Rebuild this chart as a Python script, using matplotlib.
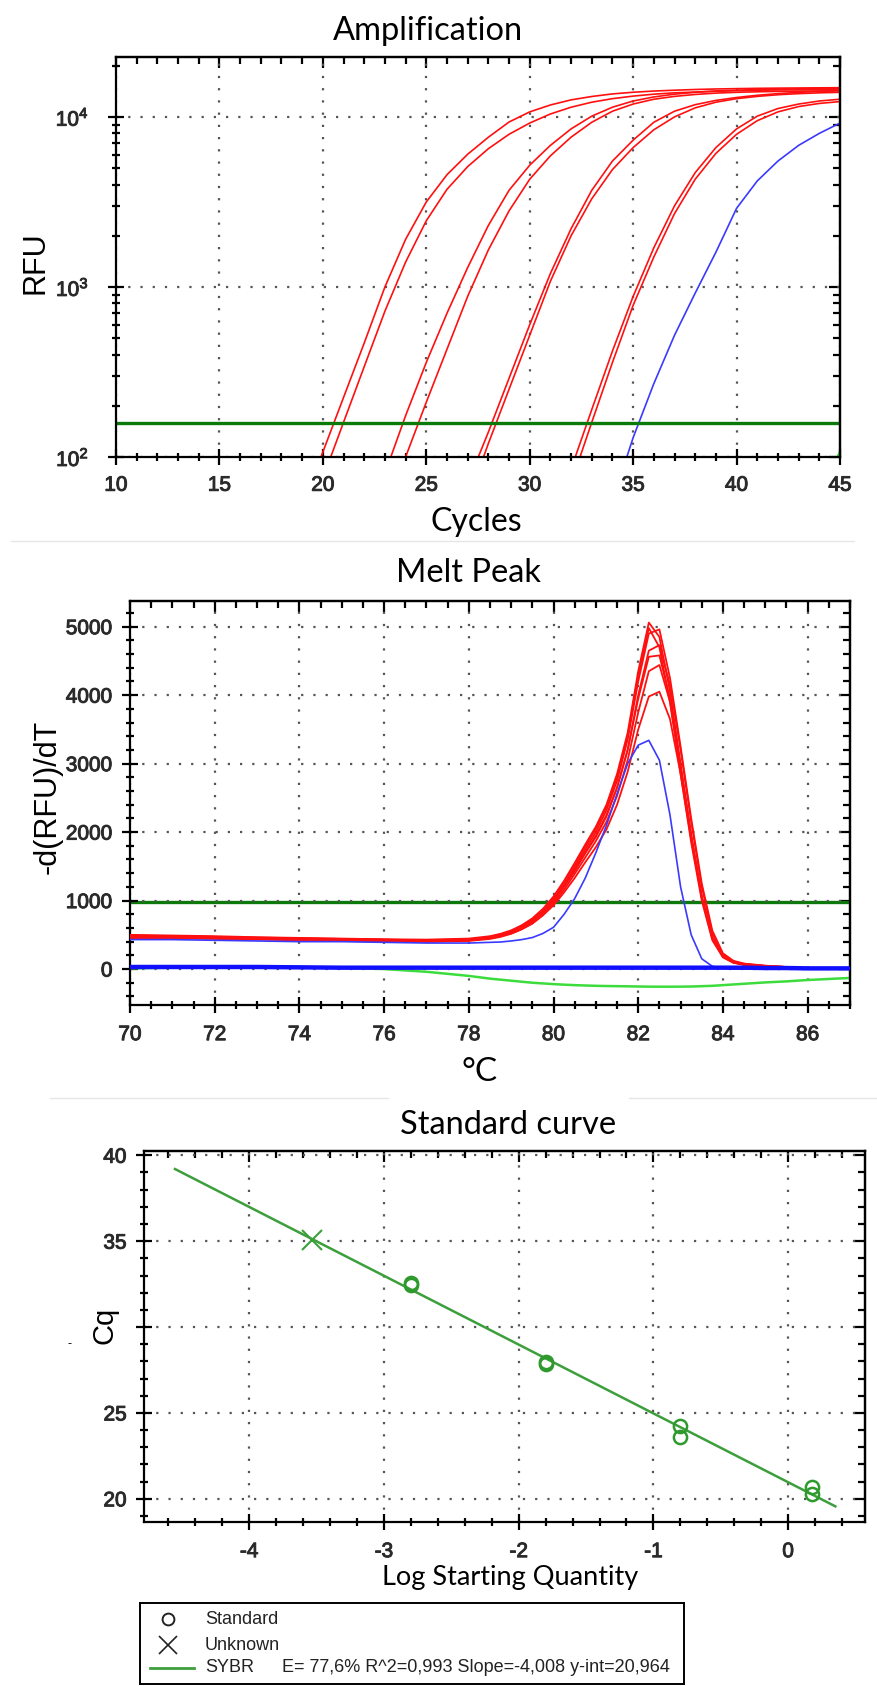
import matplotlib
matplotlib.use("Agg")
import matplotlib.pyplot as plt
import matplotlib.patheffects as pe
from matplotlib.lines import Line2D
from matplotlib.ticker import MultipleLocator, LogLocator, NullFormatter, FuncFormatter

W, H = 877, 1686

plt.rcParams["font.family"] = ["Liberation Sans", "DejaVu Sans"]
plt.rcParams["axes.unicode_minus"] = False
plt.rcParams["mathtext.default"] = "regular"

TITLE_FONT = ["Lato", "DejaVu Sans"]

# ---- amplification: RFU per cycle, one list per well (first cycle in amp_start)
amp_start = [19, 20, 23, 23, 27, 27, 32, 32]
amp_rfu = [
    [51, 107, 224, 468, 1000, 1905, 3160, 4570, 6030, 7590, 9330, 10700, 11750, 12590,
     13180, 13650, 13960, 14190, 14350, 14490, 14590, 14660, 14720, 14760, 14790, 14820, 14850],
    [75, 160, 340, 720, 1400, 2450, 3750, 5100, 6500, 7900, 9200, 10400, 11400, 12200,
     12800, 13250, 13600, 13850, 14000, 14150, 14250, 14330, 14400, 14450, 14500, 14550],
    [80, 175, 360, 700, 1300, 2300, 3700, 5200, 6800, 8500, 10100, 11400, 12400, 13100,
     13600, 13950, 14200, 14350, 14480, 14560, 14620, 14670, 14700],
    [45, 100, 210, 430, 880, 1650, 2800, 4300, 5900, 7600, 9300, 10800, 11900, 12700,
     13200, 13550, 13800, 13950, 14050, 14120, 14170, 14210, 14250],
    [70, 140, 290, 600, 1200, 2200, 3700, 5500, 7300, 9300, 10800, 11800, 12500, 13000,
     13400, 13700, 13950, 14100, 14250],
    [55, 120, 250, 520, 1080, 2000, 3300, 4900, 6600, 8400, 10000, 11300, 12200, 12800,
     13200, 13500, 13700, 13850, 13950],
    [85, 190, 420, 880, 1700, 3000, 4700, 6600, 8500, 10100, 11200, 11900, 12400, 12700],
    [70, 160, 360, 780, 1500, 2700, 4300, 6100, 7900, 9500, 10700, 11500, 12000, 12300],
]
unk_start = 34
unk_rfu = [55, 130, 270, 520, 920, 1600, 2900, 4200, 5500, 6800, 8000, 9200]
ntc_start = 44
ntc_rfu = [60, 108]
amp_threshold = 158

# ---- melt peak: -d(RFU)/dT on a shared temperature grid
melt_temp = [70, 71, 72, 73, 74, 75, 76, 77, 78,
             78.5, 78.75, 79, 79.25, 79.5, 79.75, 80, 80.25, 80.5, 80.75,
             81, 81.25, 81.5, 81.75, 82, 82.25, 82.5, 82.75, 83, 83.25,
             83.5, 83.75, 84, 84.25, 84.5,
             85, 85.5, 86, 87]
melt_std = [
    [500, 490, 480, 465, 455, 445, 435, 430, 445,
     480, 515, 565, 640, 740, 880, 1060, 1290, 1550, 1820,
     2080, 2400, 2850, 3450, 4350, 5060, 4850, 4050, 3000, 1950,
     1050, 450, 180, 100, 70, 45, 30, 15, 0],
    [470, 480, 470, 455, 445, 435, 425, 420, 435,
     465, 500, 545, 615, 710, 840, 1010, 1230, 1480, 1750,
     2000, 2320, 2750, 3350, 4200, 4900, 4960, 4250, 3250, 2200,
     1250, 560, 230, 120, 80, 50, 30, 15, 0],
    [480, 470, 460, 450, 440, 440, 430, 420, 430,
     470, 505, 555, 630, 730, 870, 1040, 1270, 1520, 1790,
     2050, 2370, 2800, 3400, 4280, 4980, 4700, 3900, 2850, 1850,
     1000, 420, 170, 90, 60, 40, 25, 10, 0],
    [460, 460, 450, 440, 430, 420, 410, 400, 420,
     450, 485, 530, 600, 690, 820, 980, 1200, 1430, 1690,
     1930, 2230, 2650, 3200, 4000, 4650, 4730, 4150, 3200, 2150,
     1200, 520, 210, 110, 75, 45, 30, 12, 0],
    [490, 480, 470, 460, 450, 440, 430, 410, 430,
     470, 500, 545, 615, 705, 835, 1000, 1220, 1460, 1710,
     1950, 2250, 2650, 3200, 3950, 4560, 4580, 3950, 2950, 1950,
     1050, 450, 180, 95, 65, 40, 25, 10, 0],
    [450, 450, 440, 430, 420, 410, 400, 400, 410,
     440, 470, 515, 580, 665, 790, 950, 1160, 1390, 1630,
     1870, 2150, 2530, 3050, 3750, 4350, 4440, 3900, 2950, 1950,
     1050, 450, 180, 95, 65, 40, 25, 10, 0],
    [470, 460, 450, 440, 430, 420, 410, 400, 420,
     450, 480, 520, 585, 665, 785, 930, 1120, 1330, 1560,
     1780, 2040, 2400, 2880, 3500, 3980, 4050, 3650, 2850, 1900,
     1050, 460, 190, 100, 70, 45, 30, 12, 0],
]
melt_unk = [430, 430, 420, 410, 400, 400, 390, 380, 380,
            390, 395, 410, 430, 460, 520, 610, 800, 1030, 1330,
            1700, 2100, 2560, 3000, 3270, 3340, 3050, 2250, 1200, 500,
            150, 40, 10, 0, 0, 0, 0, 0, 0]
melt_ntc = [30, 30, 30, 30, 25, 20, 20, 20, 20,
            20, 20, 20, 20, 20, 20, 20, 20, 20, 20,
            20, 20, 20, 20, 20, 20, 20, 20, 20, 20,
            20, 20, 20, 20, 20, 15, 15, 10, 10]
melt_neg = [10, 20, 40, 40, 30, 20, 0, -40, -100,
            -140, -155, -170, -185, -200, -210, -220, -228, -235, -240,
            -245, -248, -250, -252, -255, -257, -258, -258, -257, -255,
            -250, -245, -235, -225, -215, -195, -180, -160, -130]
melt_threshold = 980

# ---- standard curve
std_logq = [-2.80, -2.80, -1.80, -1.80, -0.80, -0.80, 0.18, 0.18]
std_cq = [32.55, 32.45, 27.95, 27.85, 24.25, 23.6, 20.7, 20.3]
unk_logq = [-3.53]
unk_cq = [35.05]
fit_slope = -4.008
fit_yint = 20.964
fit_range = [-4.55, 0.35]
fit_text = "E= 77,6% R^2=0,993 Slope=-4,008 y-int=20,964"

GRID = dict(color="#555555", ls=(0, (1, 4.5)), lw=1.6)
TICKS = "#2a2a2a"
BOLDEN = [pe.withStroke(linewidth=0.7, foreground=TICKS)]


def px_axes(fig, l, t, r, b):
    return fig.add_axes([l / W, 1 - b / H, (r - l) / W, (b - t) / H])


def style(ax, xmaj, xmin, ymaj=None, ymin=None, logy=False):
    for s in ax.spines.values():
        s.set_linewidth(1.6)
    ax.xaxis.set_major_locator(MultipleLocator(xmaj))
    ax.xaxis.set_minor_locator(MultipleLocator(xmin))
    if logy:
        ax.yaxis.set_major_locator(LogLocator(base=10))
        ax.yaxis.set_minor_locator(LogLocator(base=10, subs=range(2, 10)))
        ax.yaxis.set_minor_formatter(NullFormatter())
    else:
        ax.yaxis.set_major_locator(MultipleLocator(ymaj))
        ax.yaxis.set_minor_locator(MultipleLocator(ymin))
    ax.tick_params(which="major", direction="inout", length=11, width=1.6,
                   labelsize=15, labelcolor=TICKS)
    ax.tick_params(which="minor", direction="inout", length=6, width=1.6)
    ax.grid(True, which="major", **GRID)
    top = ax.secondary_xaxis("top")
    top.xaxis.set_major_locator(MultipleLocator(xmaj))
    top.xaxis.set_minor_locator(MultipleLocator(xmin))
    top.tick_params(which="major", direction="in", length=8, width=1.6, labeltop=False)
    top.tick_params(which="minor", direction="in", length=5, width=1.6)
    right = ax.secondary_yaxis("right")
    if logy:
        right.yaxis.set_major_locator(LogLocator(base=10))
        right.yaxis.set_minor_locator(LogLocator(base=10, subs=range(2, 10)))
    else:
        right.yaxis.set_major_locator(MultipleLocator(ymaj))
        right.yaxis.set_minor_locator(MultipleLocator(ymin))
    right.tick_params(which="major", direction="in", length=8, width=1.6, labelright=False)
    right.tick_params(which="minor", direction="in", length=5, width=1.6)
    for sec in (top, right):
        for s in sec.spines.values():
            s.set_linewidth(1.6)


def bolden_labels(ax):
    for lab in ax.get_xticklabels() + ax.get_yticklabels():
        lab.set_path_effects(BOLDEN)


def hline_px(fig, x0, x1, y):
    fig.add_artist(Line2D([x0 / W, x1 / W], [1 - y / H, 1 - y / H],
                          transform=fig.transFigure, color="#e6e6e6", lw=1))


fig = plt.figure(figsize=(W / 100, H / 100), dpi=100)

# faint panel separators
hline_px(fig, 11, 854, 541)
hline_px(fig, 50, 388, 1098)
hline_px(fig, 629, 877, 1098)

# ---------------- Amplification
ax1 = px_axes(fig, 116, 57, 840, 457)
for start, vals in zip(amp_start, amp_rfu):
    ax1.plot(range(start, start + len(vals)), vals, color="#ff1010", lw=1.2)
ax1.plot(range(unk_start, unk_start + len(unk_rfu)), unk_rfu, color="#3a3aff", lw=1.2)
ax1.plot(range(ntc_start, ntc_start + len(ntc_rfu)), ntc_rfu, color="#22cc22", lw=1.3)
ax1.axhline(amp_threshold, color="#0b7a0b", lw=2.4)
ax1.set_yscale("log")
ax1.set_xlim(10, 45)
ax1.set_ylim(100, 22500)
style(ax1, 5, 1, logy=True)
ax1.tick_params(axis="x", pad=8)
ax1.tick_params(axis="y", pad=14)

fig.text(428 / W, 1 - 31 / H, "Amplification", family=TITLE_FONT, fontsize=23.5,
         ha="center", va="center")
fig.text(476 / W, 1 - 522 / H, "Cycles", family=TITLE_FONT, fontsize=23,
         ha="center", va="center")
fig.text(36 / W, 1 - 263 / H, "RFU", fontsize=22, rotation=90, ha="center", va="center")

# ---------------- Melt peak
ax2 = px_axes(fig, 130, 601, 850, 1005)
ax2.axhline(melt_threshold, color="#0b7a0b", lw=2.4, zorder=1)
ax2.plot(melt_temp, melt_neg, color="#3ddc3d", lw=1.8, zorder=2)
for vals in melt_std:
    ax2.plot(melt_temp, vals, color="#ff1010", lw=1.3, zorder=3)
ax2.plot(melt_temp, melt_unk, color="#3a3aff", lw=1.2, zorder=4)
ax2.plot(melt_temp, melt_ntc, color="#1010ff", lw=3.2, zorder=5)
ax2.set_xlim(70, 87)
ax2.set_ylim(-525, 5375)
style(ax2, 2, 0.5, 1000, 200)
ax2.tick_params(axis="x", pad=9)
ax2.tick_params(axis="y", pad=7)

fig.text(469 / W, 1 - 573 / H, "Melt Peak", family=TITLE_FONT, fontsize=23.5,
         ha="center", va="center")
fig.text(480 / W, 1 - 1072 / H, "\u00b0C", family=TITLE_FONT, fontsize=24,
         ha="center", va="center")
fig.text(48 / W, 1 - 797 / H, "-d(RFU)/dT", fontsize=22, rotation=90,
         ha="center", va="center")

# ---------------- Standard curve
ax3 = px_axes(fig, 144, 1151, 865, 1522)
ax3.plot(fit_range, [fit_yint + fit_slope * x for x in fit_range], color="#3c9f3c", lw=1.8)
ax3.plot(std_logq, std_cq, "o", ms=9.5, mfc="none", mec="#2e9a2e", mew=1.8)
ax3.plot(unk_logq, unk_cq, "x", ms=14, color="#3c9f3c", mew=1.5)
ax3.set_xlim(-4.78, 0.57)
ax3.set_ylim(18.65, 40.25)
style(ax3, 1, 0.2, 5, 1)
# the Cq title sits where the 30 label would be
ax3.yaxis.set_major_formatter(FuncFormatter(lambda v, p: "" if round(v) == 30 else f"{v:g}"))
ax3.tick_params(axis="x", pad=9)
ax3.tick_params(axis="y", pad=7)

fig.text(508 / W, 1 - 1125 / H, "Standard curve", family=TITLE_FONT, fontsize=23.5,
         ha="center", va="center")
fig.text(510 / W, 1 - 1578 / H, "Log Starting Quantity", family=TITLE_FONT, fontsize=19.5,
         ha="center", va="center")
fig.text(104 / W, 1 - 1325 / H, "Cq", fontsize=21, rotation=90, ha="center", va="center")
fig.text(70 / W, 1 - 1344 / H, "-", fontsize=9, ha="center", va="center")

# legend box
lg = px_axes(fig, 140, 1603, 684, 1684)
lg.set_xlim(0, 544)
lg.set_ylim(81, 0)
lg.set_xticks([])
lg.set_yticks([])
for s in lg.spines.values():
    s.set_linewidth(1.4)
lg.plot([28], [16], "o", ms=8.5, mfc="none", mec="#222222", mew=1.4)
lg.text(65, 16, "Standard", fontsize=13, va="center", color="#222222")
lg.plot([28], [42], "x", ms=13, color="#222222", mew=1.2)
lg.text(65, 42, "Unknown", fontsize=13, va="center", color="#222222")
lg.plot([10, 54], [65, 65], color="#3c9f3c", lw=2)
lg.text(65, 65, "SYBR", fontsize=13, va="center", color="#222222")
lg.text(142, 65, fit_text, fontsize=13, va="center", color="#222222")

fig.canvas.draw()
for ax in (ax1, ax2, ax3):
    bolden_labels(ax)

fig.savefig("out.png", dpi=100, facecolor="white")
